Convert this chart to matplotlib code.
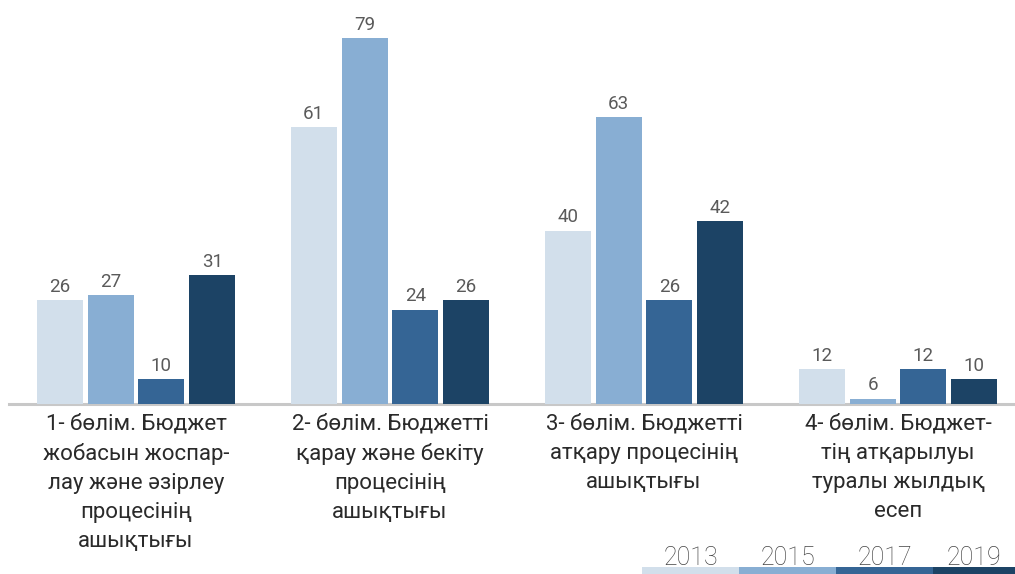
import matplotlib
matplotlib.use("Agg")
import matplotlib.pyplot as plt
import numpy as np

# данные
categories = [
    "1- бөлім. Бюджет\nжобасын жоспар-\nлау және әзірлеу\nпроцесінің\nашықтығы",
    "2- бөлім. Бюджетті\nқарау және бекіту\nпроцесінің\nашықтығы",
    "3- бөлім. Бюджетті\nатқару процесінің\nашықтығы",
    "4- бөлім. Бюджет-\nтің атқарылуы\nтуралы жылдық\nесеп",
]
years = ["2013", "2015", "2017", "2019"]
values_2013 = [26, 61, 40, 12]
values_2015 = [27, 79, 63, 6]
values_2017 = [10, 24, 26, 12]
values_2019 = [31, 26, 42, 10]
series = [values_2013, values_2015, values_2017, values_2019]
colors = ["#d2dfeb", "#88aed3", "#356595", "#1c4365"]

plt.rcParams['font.family'] = ['Roboto', 'DejaVu Sans']

fig = plt.figure(figsize=(10.15, 5.74), dpi=100)
ax = fig.add_axes([9/1015, 170/574, 1006/1015, 404/574])

x = np.arange(len(categories))
offsets = [-0.3, -0.1, 0.1, 0.3]
for vals, off, col in zip(series, offsets, colors):
    bars = ax.bar(x + off, vals, width=0.181, color=col, zorder=2)
    for b, v in zip(bars, vals):
        ax.annotate(str(v), (b.get_x() + b.get_width()/2, v),
                    xytext=(0, 6), textcoords="offset points",
                    ha="center", va="baseline", fontsize=13.5,
                    color="#5a5a5a")

ax.set_xlim(-0.5, -0.5 + 1006/254)
ax.set_ylim(4.94, 86.69)
ax.set_yticks([])
ax.set_xticks(x, categories, fontsize=16, color="#2a2a2a", linespacing=1.5)
ax.tick_params(axis="x", length=0, pad=7)
for s in ["top", "left", "right"]:
    ax.spines[s].set_visible(False)
ax.spines["bottom"].set_color("#c8c8c8")
ax.spines["bottom"].set_linewidth(2.2)
ax.spines["bottom"].set_zorder(0)

# легенда снизу справа
lax = fig.add_axes([642/1015, 0, 388/1015, 7/574])
lax.barh(0, [1]*4, left=np.arange(4), height=1, color=colors, align="edge")
lax.set_xlim(0, 4)
lax.set_ylim(0, 1)
lax.axis("off")
for i, y in enumerate(years):
    lax.text(i + 0.5 if i < 3 else 3.42, 1.3, y, ha="center", va="baseline",
             fontsize=18, fontweight="light", color="#444444",
             transform=lax.transData, clip_on=False)

fig.savefig("out.png", dpi=100)
